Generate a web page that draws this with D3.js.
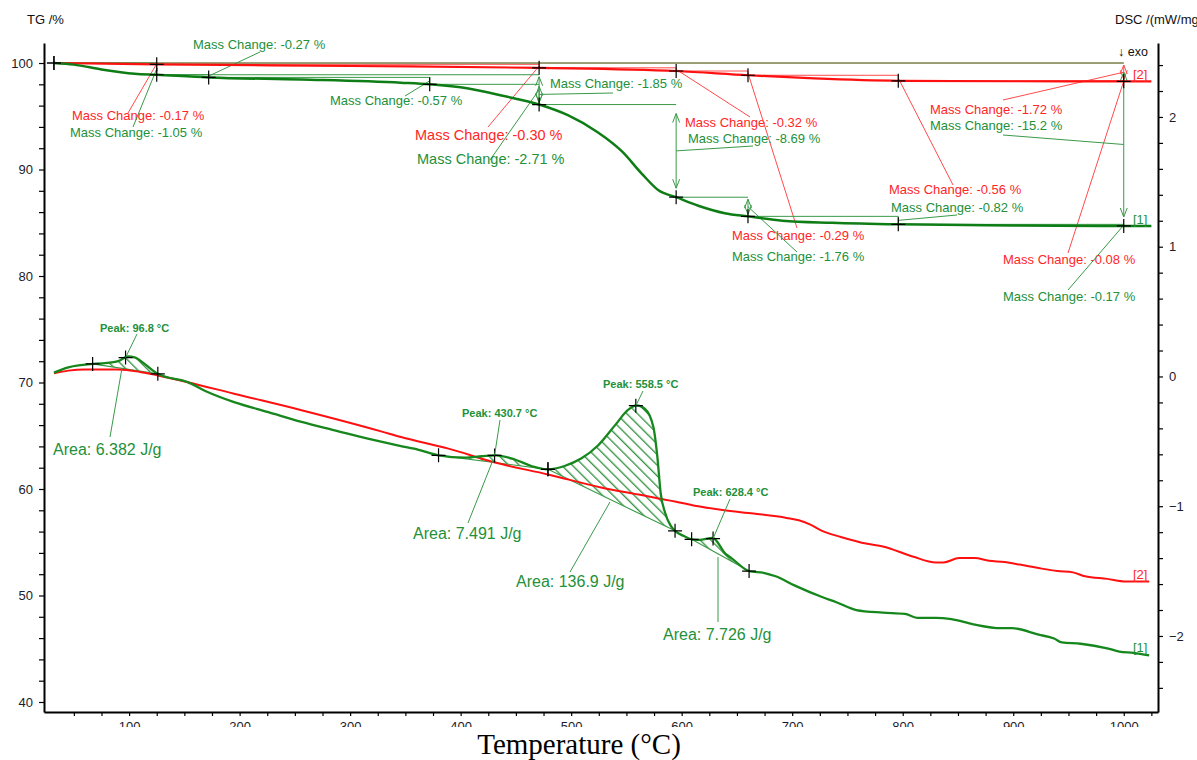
<!DOCTYPE html>
<html><head><meta charset="utf-8">
<script src="https://cdn.jsdelivr.net/npm/d3@7"></script>
<style>
body{margin:0;background:#fff;}
svg{display:block;font-family:"Liberation Sans",Arial,sans-serif;}
</style>
</head><body>
<svg id="chart" width="1197" height="760"></svg>
<script>
// ---------------- DATA ----------------
// TG curve [1] (green), temperature in °C, mass in %
const tgGreenT = [32,50,75,105,125,172,256,346,372,407,437,471,497,524,546,564,579,595,615,639,660,691,736,796,900,1000,1025];
const tgGreen  = [100.0,99.85,99.4,99.0,98.9,98.65,98.45,98.15,98.0,97.6,96.95,96.1,95.1,93.5,91.7,89.6,88.05,87.4,86.6,85.9,85.6,85.2,85.0,84.85,84.75,84.7,84.7];
// TG curve [2] (red)
const tgRedT = [32,125,300,471,595,660,720,796,900,1000,1025];
const tgRed  = [100,99.88,99.72,99.55,99.25,98.85,98.55,98.33,98.29,98.28,98.27];
// DSC curve [1] (green), mW/mg
const dscGreenT = [32,45,67,75,90,99,105,114,126,153,171,195,226,256,286,316,346,358,380,404,419,432,449,464,479,494,509,524.5,539.6,551.7,559,566.8,574.4,578,581,585,590,594,602,609,616,628,640,645,661,675,685,702,727,740,758,782,802,813,830,844,864,889,899,923,937,944,961,985,996,1009,1023];
const dscGreen  = [0.03,0.07,0.097,0.10,0.118,0.154,0.148,0.097,0.02,-0.044,-0.12,-0.198,-0.275,-0.35,-0.415,-0.48,-0.536,-0.556,-0.608,-0.625,-0.615,-0.608,-0.64,-0.69,-0.716,-0.69,-0.633,-0.53,-0.377,-0.256,-0.223,-0.25,-0.39,-0.62,-0.90,-1.05,-1.15,-1.19,-1.23,-1.255,-1.26,-1.245,-1.37,-1.40,-1.50,-1.515,-1.54,-1.61,-1.70,-1.74,-1.80,-1.82,-1.83,-1.86,-1.86,-1.87,-1.91,-1.94,-1.94,-1.99,-2.02,-2.05,-2.06,-2.095,-2.12,-2.13,-2.15];
// DSC curve [2] (red)
const dscRedT = [32,45,60,90,110,126,153,195,256,328,346,389,432,479,527,561,585,595,615,637,665,695,706,716,727,744,768,782,809,830,837,851,865,878,892,906,923,940,954,965,985,1002,1023];
const dscRed  = [0.025,0.045,0.054,0.054,0.035,0.008,-0.044,-0.133,-0.26,-0.423,-0.467,-0.556,-0.665,-0.755,-0.855,-0.91,-0.95,-0.965,-1.0,-1.03,-1.057,-1.09,-1.108,-1.14,-1.19,-1.237,-1.29,-1.31,-1.387,-1.433,-1.433,-1.40,-1.40,-1.42,-1.43,-1.45,-1.477,-1.50,-1.51,-1.54,-1.56,-1.58,-1.58];

// Mass-change evaluation steps
const greenStepT = [32,125,172,372,471,595,660,796,1000];
const greenStepChange = ["-1.05","-0.27","-0.57","-1.85","-8.69","-1.76","-0.82","-0.17"];
const greenSpanT = [[125,471],[32,1000]];
const greenSpanChange = ["-2.71","-15.2"];
const redStepT = [32,125,471,595,660,796,1000];
const redStepChange = ["-0.17","-0.30","-0.32","-0.29","-0.56","-0.08"];
const redSpanT = [[32,1000]];
const redSpanChange = ["-1.72"];

// DSC peak evaluations (green curve)
const peakTemps = [96.8, 430.7, 558.5, 628.4];
const peakLimits = [[67,126],[380,479],[479,594],[609,661]];
const peakAreas = ["6.382","7.491","136.9","7.726"];

// Axis ticks
const tgTicks = d3.range(40, 101, 2);
const dscTicks = d3.range(-24, 25, 2).map(d => d / 10);
const tempTicks = d3.range(50, 1026, 25);

// ---------------- LAYOUT (label placement, px) ----------------
const lay = {
  greenSteps: [
    {tx:70,ty:137,ex:133,ey:127},{tx:193,ty:49,ex:260,ey:52},{tx:330,ty:105,ex:405,ey:96},
    {tx:550,ty:88,ex:613,ey:93},{tx:688,ty:143,ex:753,ey:146},{tx:732,ty:261,ex:797,ey:252},
    {tx:891,ty:212,ex:957,ey:215},{tx:1003,ty:301,ex:1068,ey:290}],
  greenSpans: [{tx:417,ty:164,ex:490,ey:160,fs:14.5},{tx:930,ty:130,ex:1003,ey:135}],
  redSteps: [
    {tx:72,ty:120,ex:128,ey:113},{tx:415,ty:140,ex:488,ey:127,fs:14.5},{tx:685,ty:127,ex:750,ey:117},
    {tx:732,ty:240,ex:797,ey:228},{tx:889,ty:194,ex:953,ey:185},{tx:1003,ty:264,ex:1068,ey:253}],
  redSpans: [{tx:930,ty:114,ex:1003,ey:100}],
  peakLabel: [[100,332],[462,417],[603,388],[693,496]],
  peakLeadEnd: [[137,334],[500,420],[643,391],[730,499]],
  areaLabel: [[53,455],[413,539],[516,587],[663,640]],
  areaLead: [[[110,437],[122,368]],[[468,523],[493,460]],[[570,572],[610,502]],[[718,622],[718,557]]]
};

const C = {
  green:"#16871c", greenTG:"#0f7d16", red:"#ff1010",
  gText:"#23903a", rText:"#ff2626", gThin:"#3a9a48", rThin:"#ff4a4a", hatch:"#2f8f3d", axis:"#000", tick:"#1b1b2b"
};

// ---------------- SCALES ----------------
const P = {l:44, r:1158, t:43, b:712};
const x = d3.scaleLinear().domain([23,1031]).range([P.l,P.r]);
const yTG = d3.scaleLinear().domain([39.06,101.88]).range([P.b,P.t]);
const yDSC = d3.scaleLinear().domain([-2.586,2.570]).range([P.b,P.t]);

function interp(ts, vs, t){
  const i = d3.bisectLeft(ts, t);
  if (i <= 0) return vs[0];
  if (i >= ts.length) return vs[vs.length-1];
  const t0 = ts[i-1], t1 = ts[i];
  return vs[i-1] + (vs[i]-vs[i-1])*(t-t0)/(t1-t0);
}
const zip = (ts, vs) => ts.map((t,i)=>[t, vs[i]]);

const svg = d3.select('#chart');
const defs = svg.append('defs');
const pat = defs.append('pattern').attr('id','hatch').attr('patternUnits','userSpaceOnUse')
  .attr('width',7.5).attr('height',7.5).attr('patternTransform','rotate(-45)');
pat.append('line').attr('x1',0.7).attr('y1',0).attr('x2',0.7).attr('y2',7.5).attr('stroke',C.hatch).attr('stroke-width',1.3);
defs.append('clipPath').attr('id','xlabClip').append('rect').attr('x',0).attr('y',0).attr('width',1197).attr('height',727);

const lineTG = d3.line().x(d=>x(d[0])).y(d=>yTG(d[1])).curve(d3.curveMonotoneX);
const lineDSC = d3.line().x(d=>x(d[0])).y(d=>yDSC(d[1])).curve(d3.curveMonotoneX);

// ---------------- HATCHED PEAK AREAS ----------------
const gDSCg = zip(dscGreenT, dscGreen);
peakLimits.forEach(([a,b])=>{
  const pts = gDSCg.filter(d=>d[0]>=a && d[0]<=b);
  const p = lineDSC(pts) + 'Z';
  svg.append('path').attr('d',p).attr('fill','url(#hatch)').attr('stroke','none');
  svg.append('line').attr('x1',x(a)).attr('y1',yDSC(interp(dscGreenT,dscGreen,a)))
    .attr('x2',x(b)).attr('y2',yDSC(interp(dscGreenT,dscGreen,b)))
    .attr('stroke',C.gThin).attr('stroke-width',1.1);
});

// ---------------- CURVES ----------------
svg.append('path').attr('d',lineDSC(zip(dscRedT,dscRed))).attr('fill','none').attr('stroke',C.red).attr('stroke-width',2);
svg.append('path').attr('d',lineDSC(gDSCg)).attr('fill','none').attr('stroke',C.green).attr('stroke-width',2.3);

// ---------------- TG STEP BRACKETS ----------------
function bracket(ts, vs, t1, t2, color){
  const v1 = interp(ts,vs,t1), v2 = interp(ts,vs,t2);
  const X1 = x(t1), X2 = x(t2), Y1 = yTG(v1), Y2 = yTG(v2);
  const g = svg.append('g').attr('stroke',color).attr('stroke-width',1).attr('fill','none');
  g.append('line').attr('x1',X1).attr('y1',Y1).attr('x2',X2).attr('y2',Y1);
  const len = Y2 - Y1;
  if (len > 15){
    const gap = len > 60 ? 9 : 2;
    const a = Y1+gap, b = Y2-gap;
    g.append('line').attr('x1',X2).attr('y1',a).attr('x2',X2).attr('y2',b);
    g.append('path').attr('d',`M${X2-3.5},${a+9}L${X2},${a}L${X2+3.5},${a+9}`);
    g.append('path').attr('d',`M${X2-3.5},${b-9}L${X2},${b}L${X2+3.5},${b-9}`);
  } else {
    g.append('line').attr('x1',X2).attr('y1',Y1).attr('x2',X2).attr('y2',Y2);
  }
  return [X2, (Y1+Y2)/2];
}
function massLabel(start, L, txt, color, thin){
  svg.append('line').attr('x1',start[0]).attr('y1',start[1]).attr('x2',L.ex).attr('y2',L.ey)
    .attr('stroke',thin).attr('stroke-width',1);
  svg.append('text').attr('x',L.tx).attr('y',L.ty).attr('fill',color)
    .attr('font-size',(L.fs||13)+'px').text('Mass Change: '+txt+' %');
}
redStepChange.forEach((c,i)=>{
  const s = bracket(tgRedT,tgRed,redStepT[i],redStepT[i+1],C.rThin);
  massLabel(s, lay.redSteps[i], c, C.rText, C.rThin);
});
redSpanChange.forEach((c,i)=>{
  const s = bracket(tgRedT,tgRed,redSpanT[i][0],redSpanT[i][1],C.rThin);
  massLabel(s, lay.redSpans[i], c, C.rText, C.rThin);
});
greenStepChange.forEach((c,i)=>{
  const s = bracket(tgGreenT,tgGreen,greenStepT[i],greenStepT[i+1],C.gThin);
  massLabel(s, lay.greenSteps[i], c, C.gText, C.gThin);
});
greenSpanChange.forEach((c,i)=>{
  const s = bracket(tgGreenT,tgGreen,greenSpanT[i][0],greenSpanT[i][1],C.gThin);
  massLabel(s, lay.greenSpans[i], c, C.gText, C.gThin);
});

svg.append('path').attr('d',lineTG(zip(tgRedT,tgRed))).attr('fill','none').attr('stroke',C.red).attr('stroke-width',2.2);
svg.append('path').attr('d',lineTG(zip(tgGreenT,tgGreen))).attr('fill','none').attr('stroke',C.greenTG).attr('stroke-width',2.5);

// ---------------- CROSSHAIRS ----------------
function cross(px, py){
  svg.append('path').attr('d',`M${px-7},${py}H${px+7}M${px},${py-7}V${py+7}`)
    .attr('stroke','#000').attr('stroke-width',1.2).attr('fill','none');
}
greenStepT.forEach(t=>cross(x(t), yTG(interp(tgGreenT,tgGreen,t))));
redStepT.forEach(t=>cross(x(t), yTG(interp(tgRedT,tgRed,t))));
peakLimits.forEach(([a,b])=>{
  cross(x(a), yDSC(interp(dscGreenT,dscGreen,a)));
  cross(x(b), yDSC(interp(dscGreenT,dscGreen,b)));
});
peakTemps.forEach(t=>cross(x(t), yDSC(interp(dscGreenT,dscGreen,t))));

// ---------------- PEAK / AREA LABELS ----------------
peakTemps.forEach((t,i)=>{
  const px = x(t), py = yDSC(interp(dscGreenT,dscGreen,t));
  svg.append('line').attr('x1',px).attr('y1',py).attr('x2',lay.peakLeadEnd[i][0]).attr('y2',lay.peakLeadEnd[i][1])
    .attr('stroke',C.gThin).attr('stroke-width',1);
  svg.append('text').attr('x',lay.peakLabel[i][0]).attr('y',lay.peakLabel[i][1]).attr('fill',C.gText)
    .attr('font-size','11px').attr('font-weight','bold').text('Peak: '+t+' °C');
  const al = lay.areaLead[i];
  svg.append('line').attr('x1',al[0][0]).attr('y1',al[0][1]).attr('x2',al[1][0]).attr('y2',al[1][1])
    .attr('stroke',C.gThin).attr('stroke-width',1);
  svg.append('text').attr('x',lay.areaLabel[i][0]).attr('y',lay.areaLabel[i][1]).attr('fill',C.gText)
    .attr('font-size','16px').text('Area: '+peakAreas[i]+' J/g');
});

// curve tags
const tagX = 1133;
[[yTG(tgRed[tgRed.length-1])-2,'[2]',C.rText],[yTG(tgGreen[tgGreen.length-1])-2,'[1]',C.gText],
 [yDSC(dscRed[dscRed.length-1])-2,'[2]',C.rText],[yDSC(dscGreen[dscGreen.length-1])-3,'[1]',C.gText]]
 .forEach(([yy,t,c])=>svg.append('text').attr('x',tagX).attr('y',yy).attr('fill',c).attr('font-size','13px').text(t));

// ---------------- AXES ----------------
function styleAxis(g){
  g.select('.domain').attr('stroke',C.axis).attr('stroke-width',2);
  g.selectAll('.tick line').attr('stroke',C.axis).attr('stroke-width',1.2);
  g.selectAll('.tick text').attr('fill',C.tick).attr('font-size','13px').attr('font-family','"Liberation Sans",Arial,sans-serif');
}
// bottom axis: tick labels partly cut off at the bottom, as in the source picture
const gxWrap = svg.append('g').attr('clip-path','url(#xlabClip)');
const gx = gxWrap.append('g').attr('transform',`translate(0,${P.b})`)
  .call(d3.axisBottom(x).tickValues(tempTicks).tickSize(4).tickSizeOuter(0).tickPadding(6)
    .tickFormat(d=> d%100===0 ? d : ''));
styleAxis(gx);

const gl = svg.append('g').attr('transform',`translate(${P.l},0)`)
  .call(d3.axisLeft(yTG).tickValues(tgTicks).tickSize(5).tickSizeOuter(0).tickPadding(6)
    .tickFormat(d=> d%10===0 ? d : ''));
styleAxis(gl);

const gr = svg.append('g').attr('transform',`translate(${P.r},0)`)
  .call(d3.axisRight(yDSC).tickValues(dscTicks).tickSize(5).tickSizeOuter(0).tickPadding(6)
    .tickFormat(d=> Math.abs(d-Math.round(d))<1e-6 ? d3.format('d')(Math.round(d)) : ''));
styleAxis(gr);
gr.selectAll('.tick text').attr('x', 11).attr('text-anchor','start');

// axis titles
svg.append('text').attr('x',27).attr('y',24).attr('font-size','13px').attr('fill','#111').text('TG /%');
svg.append('text').attr('x',1115).attr('y',24).attr('font-size','13px').attr('fill','#111').text('DSC /(mW/mg)');
svg.append('text').attr('x',1118).attr('y',56).attr('font-size','12.5px').attr('fill','#111').text('↓ exo');
svg.append('text').attr('x',579).attr('y',754).attr('text-anchor','middle')
  .attr('font-family','"Liberation Serif","Times New Roman",serif').attr('font-size','29px').attr('fill','#000')
  .text('Temperature (°C)');
</script>
</body></html>
